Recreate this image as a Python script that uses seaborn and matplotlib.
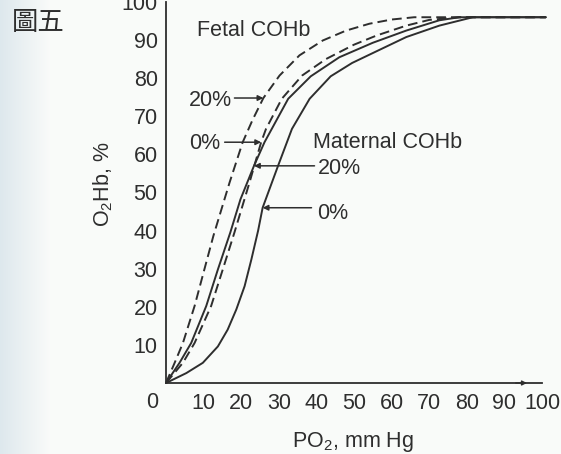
import numpy as np
import pandas as pd
import matplotlib
matplotlib.use("Agg")
import matplotlib.pyplot as plt
import seaborn as sns

# Oxyhaemoglobin dissociation curves (PO2 in mm Hg, O2Hb in %)
fetal20_po2 = [0, 2.3, 4.5, 7.6, 10.2, 12.6, 16.9, 20.4, 23.0, 25.9, 30.2, 35.5, 41.7, 47.9, 54.1, 60.0, 66.0, 101]
fetal20_o2 = [0, 5.3, 10.5, 20.2, 29.8, 38.6, 52.6, 63.2, 69.0, 74.8, 80.7, 86.0, 89.9, 92.5, 94.3, 95.4, 96.0, 96.0]

fetal0_po2 = [0, 4.5, 7.6, 12.0, 15.1, 18.2, 22.2, 25.3, 26.6, 30.8, 36.2, 42.5, 50.0, 56.0, 63.9, 70.0, 78.0, 101]
fetal0_o2 = [0, 5.3, 10.5, 20.2, 29.8, 39.5, 52.6, 63.2, 66.7, 74.6, 80.7, 85.0, 88.8, 91.2, 93.8, 95.3, 96.0, 96.0]

mat20_po2 = [0, 3.6, 6.7, 10.7, 13.8, 17.1, 19.8, 23.4, 26.2, 32.5, 38.5, 46.1, 55.0, 63.9, 72.7, 78.0, 101]
mat20_o2 = [0, 5.3, 10.5, 20.2, 29.8, 39.5, 48.2, 57.0, 63.2, 74.6, 80.5, 85.5, 89.3, 92.5, 95.2, 96.0, 96.0]

mat0_po2 = [0, 5.4, 9.8, 13.8, 16.4, 18.7, 20.9, 22.7, 24.5, 25.7, 29.8, 33.5, 38.2, 43.8, 49.5, 55.0, 63.9, 72.7, 81.6, 101]
mat0_o2 = [0, 2.6, 5.3, 9.6, 14.0, 19.3, 25.4, 32.4, 40.0, 46.0, 57.0, 66.7, 74.6, 80.5, 84.0, 86.6, 90.8, 93.8, 96.0, 96.0]

curve_names = ["fetal 20%", "fetal 0%", "maternal 20%", "maternal 0%"]
x_ticks = [0, 10, 20, 30, 40, 50, 60, 70, 80, 90, 100]
x_tick_labels = ["", "10", "20", "30", "40", "50", "60", "70", "80", "90", "100"]
y_ticks = [0, 10, 20, 30, 40, 50, 60, 70, 80, 90, 100]
y_tick_labels = ["", "10", "20", "30", "40", "50", "60", "70", "80", "90", "100"]
arterial_po2 = 96

frames = []
for name, xs, ys in zip(curve_names,
                        [fetal20_po2, fetal0_po2, mat20_po2, mat0_po2],
                        [fetal20_o2, fetal0_o2, mat20_o2, mat0_o2]):
    frames.append(pd.DataFrame({"po2": xs, "o2hb": ys, "curve": name}))
df = pd.concat(frames, ignore_index=True)

sns.set_theme(style="white")
plt.rcParams["font.family"] = ["Liberation Sans", "DejaVu Sans"]
ink = "#2e2e2e"
plt.rcParams["text.color"] = ink
plt.rcParams["axes.labelcolor"] = ink
plt.rcParams["xtick.color"] = ink
plt.rcParams["ytick.color"] = ink
plt.rcParams["mathtext.default"] = "regular"
fs = 15.5

fig = plt.figure(figsize=(5.61, 4.54), dpi=100)
fig.patch.set_facecolor("#fafbf9")

# paper tone: slightly bluish along the left margin
bg = fig.add_axes([0, 0, 1, 1], zorder=-10)
grad = np.linspace(0, 1, 561)
tone = np.clip(grad / 0.09, 0, 1)
left_col = np.array([0.87, 0.91, 0.93])
right_col = np.array([0.98, 0.985, 0.978])
img = left_col[None, :] * (1 - tone[:, None]) + right_col[None, :] * tone[:, None]
bg.imshow(img[None, :, :], aspect="auto", extent=[0, 1, 0, 1])
bg.axis("off")

ax = fig.add_axes([166 / 561, 71 / 454, 376 / 561, 381 / 454])
ax.set_facecolor("none")

sns.lineplot(data=df, x="po2", y="o2hb", hue="curve", style="curve",
             palette={n: ink for n in curve_names},
             dashes={"fetal 20%": (5, 2.6), "fetal 0%": (5, 2.6),
                     "maternal 20%": "", "maternal 0%": ""},
             estimator=None, sort=False, legend=False, lw=1.4, ax=ax,
             clip_on=False)

ax.set_xlim(0, 100)
ax.set_ylim(0, 100)
ax.set_xlabel("")
ax.set_ylabel("")
for s in ["top", "right"]:
    ax.spines[s].set_visible(False)
for s in ["left", "bottom"]:
    ax.spines[s].set_color(ink)
    ax.spines[s].set_linewidth(1.3)

ax.set_xticks(x_ticks)
ax.set_xticklabels(x_tick_labels)
ax.set_yticks(y_ticks)
ax.set_yticklabels(y_tick_labels)
ax.tick_params(axis="x", direction="inout", length=8, width=1.2, labelsize=fs, pad=3)
ax.tick_params(axis="y", direction="inout", length=10, width=1.2, labelsize=fs, pad=1)
ax.text(-3.7, -5.2, "0", fontsize=fs, ha="center", va="center", color=ink, clip_on=False)

fig.text(353 / 561, 1 - 447 / 454, r"PO$_2$, mm Hg", fontsize=fs, ha="center", va="baseline")
fig.text(103 / 561, 1 - 184 / 454, r"O$_2$Hb, %", fontsize=fs, ha="center", va="center", rotation=90)

# arterial PO2 marker on the axis
ax.annotate("", xy=(arterial_po2, 0), xytext=(arterial_po2 - 3, 0),
            arrowprops=dict(arrowstyle="-|>", color=ink, lw=1.0, mutation_scale=7,
                            shrinkA=0, shrinkB=0), annotation_clip=False)

arrow_kw = dict(arrowstyle="-|>", color=ink, lw=1.1, mutation_scale=8, shrinkA=0, shrinkB=0)

ax.text(23.2, 92.5, "Fetal COHb", fontsize=fs, ha="center", va="center")
ax.text(17.5, 74.2, "20%", fontsize=fs, ha="right", va="center")
ax.annotate("", xy=(fetal20_po2[9], fetal20_o2[9]), xytext=(18.2, fetal20_o2[9]), arrowprops=arrow_kw)
ax.text(14.3, 62.8, "0%", fontsize=fs, ha="right", va="center")
ax.annotate("", xy=(fetal0_po2[7], fetal0_o2[7]), xytext=(15.6, fetal0_o2[7]), arrowprops=arrow_kw)

ax.text(39.0, 63.0, "Maternal COHb", fontsize=fs, ha="left", va="center")
ax.text(40.3, 56.2, "20%", fontsize=fs, ha="left", va="center")
ax.annotate("", xy=(mat20_po2[7], mat20_o2[7]), xytext=(39.5, mat20_o2[7]), arrowprops=arrow_kw)
ax.text(40.3, 44.6, "0%", fontsize=fs, ha="left", va="center")
ax.annotate("", xy=(mat0_po2[9], mat0_o2[9]), xytext=(38.7, mat0_o2[9]), arrowprops=arrow_kw)

fig.text(12 / 561, 1 - 23 / 454, "圖五", fontsize=19, ha="left", va="center",
         family=["Noto Sans CJK TC", "DejaVu Sans"], color=ink)

fig.savefig("out.png", dpi=100, facecolor=fig.get_facecolor())
